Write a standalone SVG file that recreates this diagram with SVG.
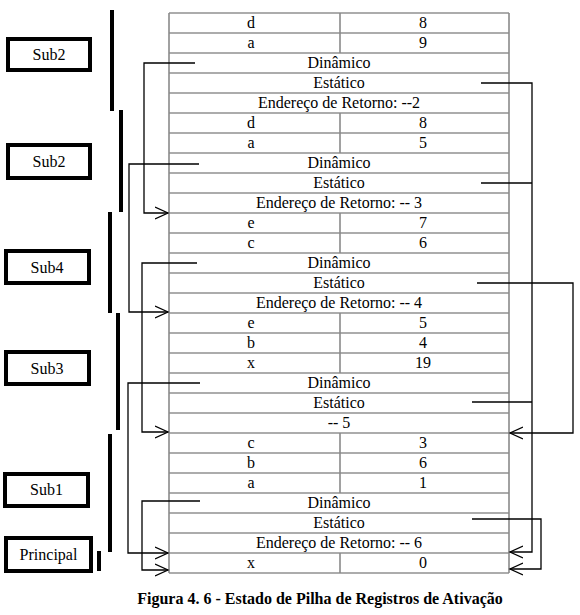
<svg xmlns="http://www.w3.org/2000/svg" width="580" height="615" viewBox="0 0 580 615">
<defs>
<style>
.t{font-family:"Liberation Serif","Times New Roman",Times,serif;font-size:16px;fill:#000;text-anchor:middle}
.cap{font-family:"Liberation Serif","Times New Roman",Times,serif;font-size:16px;font-weight:bold;fill:#000;text-anchor:middle}
.row{stroke:#5a5a5a;stroke-width:1.2}
.edge{stroke:#8a8a8a;stroke-width:1.6;fill:none}
.box{fill:#fff;stroke:#000;stroke-width:4}
.bar{stroke:#000;stroke-width:4}
.con{fill:none;stroke:#000;stroke-width:1.3}
</style>
<marker id="ah" markerUnits="userSpaceOnUse" markerWidth="16" markerHeight="16" refX="13" refY="7" orient="auto" viewBox="0 0 16 14">
<path d="M0,1 L13,7 L0,13" fill="none" stroke="#000" stroke-width="1.3"/>
</marker>
</defs>
<rect width="580" height="615" fill="#fff"/>

<g id="stack" font-family="Liberation Serif, Times New Roman, serif">
<g id="rows">
<line class="row" x1="169" y1="13" x2="509" y2="13"/>
<line class="row" x1="169" y1="33" x2="509" y2="33"/>
<line class="row" x1="169" y1="53" x2="509" y2="53"/>
<line class="row" x1="169" y1="73" x2="509" y2="73"/>
<line class="row" x1="169" y1="93" x2="509" y2="93"/>
<line class="row" x1="169" y1="113" x2="509" y2="113"/>
<line class="row" x1="169" y1="133" x2="509" y2="133"/>
<line class="row" x1="169" y1="153" x2="509" y2="153"/>
<line class="row" x1="169" y1="173" x2="509" y2="173"/>
<line class="row" x1="169" y1="193" x2="509" y2="193"/>
<line class="row" x1="169" y1="213" x2="509" y2="213"/>
<line class="row" x1="169" y1="233" x2="509" y2="233"/>
<line class="row" x1="169" y1="253" x2="509" y2="253"/>
<line class="row" x1="169" y1="273" x2="509" y2="273"/>
<line class="row" x1="169" y1="293" x2="509" y2="293"/>
<line class="row" x1="169" y1="313" x2="509" y2="313"/>
<line class="row" x1="169" y1="333" x2="509" y2="333"/>
<line class="row" x1="169" y1="353" x2="509" y2="353"/>
<line class="row" x1="169" y1="373" x2="509" y2="373"/>
<line class="row" x1="169" y1="393" x2="509" y2="393"/>
<line class="row" x1="169" y1="413" x2="509" y2="413"/>
<line class="row" x1="169" y1="433" x2="509" y2="433"/>
<line class="row" x1="169" y1="453" x2="509" y2="453"/>
<line class="row" x1="169" y1="473" x2="509" y2="473"/>
<line class="row" x1="169" y1="493" x2="509" y2="493"/>
<line class="row" x1="169" y1="513" x2="509" y2="513"/>
<line class="row" x1="169" y1="533" x2="509" y2="533"/>
<line class="row" x1="169" y1="553" x2="509" y2="553"/>
<line class="row" x1="169" y1="573" x2="509" y2="573"/>
<line class="edge" x1="169" y1="13" x2="169" y2="573"/>
<line class="edge" x1="509" y1="13" x2="509" y2="573"/>
<line class="edge" x1="340" y1="13" x2="340" y2="53"/>
<line class="edge" x1="340" y1="113" x2="340" y2="153"/>
<line class="edge" x1="340" y1="213" x2="340" y2="253"/>
<line class="edge" x1="340" y1="313" x2="340" y2="373"/>
<line class="edge" x1="340" y1="433" x2="340" y2="493"/>
<line class="edge" x1="340" y1="553" x2="340" y2="573"/>
</g>
<g id="texts">
<text class="t" x="251" y="28">d</text><text class="t" x="423" y="28">8</text>
<text class="t" x="251" y="48">a</text><text class="t" x="423" y="48">9</text>
<text class="t" x="339" y="68">Dinâmico</text>
<text class="t" x="339" y="88">Estático</text>
<text class="t" x="339" y="108">Endereço de Retorno: --2</text>
<text class="t" x="251" y="128">d</text><text class="t" x="423" y="128">8</text>
<text class="t" x="251" y="148">a</text><text class="t" x="423" y="148">5</text>
<text class="t" x="339" y="168">Dinâmico</text>
<text class="t" x="339" y="188">Estático</text>
<text class="t" x="339" y="208">Endereço de Retorno: -- 3</text>
<text class="t" x="251" y="228">e</text><text class="t" x="423" y="228">7</text>
<text class="t" x="251" y="248">c</text><text class="t" x="423" y="248">6</text>
<text class="t" x="339" y="268">Dinâmico</text>
<text class="t" x="339" y="288">Estático</text>
<text class="t" x="339" y="308">Endereço de Retorno: -- 4</text>
<text class="t" x="251" y="328">e</text><text class="t" x="423" y="328">5</text>
<text class="t" x="251" y="348">b</text><text class="t" x="423" y="348">4</text>
<text class="t" x="251" y="368">x</text><text class="t" x="423" y="368">19</text>
<text class="t" x="339" y="388">Dinâmico</text>
<text class="t" x="339" y="408">Estático</text>
<text class="t" x="339" y="428">-- 5</text>
<text class="t" x="251" y="448">c</text><text class="t" x="423" y="448">3</text>
<text class="t" x="251" y="468">b</text><text class="t" x="423" y="468">6</text>
<text class="t" x="251" y="488">a</text><text class="t" x="423" y="488">1</text>
<text class="t" x="339" y="508">Dinâmico</text>
<text class="t" x="339" y="528">Estático</text>
<text class="t" x="339" y="548">Endereço de Retorno: -- 6</text>
<text class="t" x="251" y="568">x</text><text class="t" x="423" y="568">0</text>
</g>
</g>

<g id="bars">
<line class="bar" x1="112" y1="10" x2="112" y2="111"/>
<line class="bar" x1="121" y1="110" x2="121" y2="212"/>
<line class="bar" x1="110" y1="212" x2="110" y2="313"/>
<line class="bar" x1="118" y1="313" x2="118" y2="430"/>
<line class="bar" x1="110" y1="434" x2="110" y2="552"/>
<line class="bar" x1="99" y1="551" x2="99" y2="571"/>
</g>

<g id="sub2a"><rect class="box" x="8" y="39" width="82" height="31"/><text class="t" x="49" y="60">Sub2</text></g>
<g id="sub2b"><rect class="box" x="8" y="145" width="82" height="33"/><text class="t" x="49" y="167">Sub2</text></g>
<g id="sub4"><rect class="box" x="6" y="251" width="83" height="32"/><text class="t" x="47" y="273">Sub4</text></g>
<g id="sub3"><rect class="box" x="6" y="352" width="83" height="32"/><text class="t" x="47" y="374">Sub3</text></g>
<g id="sub1"><rect class="box" x="5" y="474" width="83" height="32"/><text class="t" x="46.5" y="495">Sub1</text></g>
<g id="principal"><rect class="box" x="6" y="538" width="85" height="33"/><text class="t" x="48.5" y="560">Principal</text></g>

<g id="connectors">
<polyline class="con" points="195,63 144,63 144,213 168,213" marker-end="url(#ah)"/>
<polyline class="con" points="199,164 129,164 129,312 168,312" marker-end="url(#ah)"/>
<polyline class="con" points="197,263 142,263 142,432 168,432" marker-end="url(#ah)"/>
<polyline class="con" points="200,383 128,383 128,553 168,553" marker-end="url(#ah)"/>
<polyline class="con" points="200,501 142,501 142,570 168,570" marker-end="url(#ah)"/>
<polyline class="con" points="481,83 532,83 532,552 510,552" marker-end="url(#ah)"/>
<polyline class="con" points="481,183 532,183"/>
<polyline class="con" points="477,283 573,283 573,433 510,433" marker-end="url(#ah)"/>
<polyline class="con" points="472,402 532,402"/>
<polyline class="con" points="472,519 541,519 541,569 510,569" marker-end="url(#ah)"/>
</g>

<text class="cap" x="320" y="604">Figura 4. 6 - Estado de Pilha de Registros de Ativação</text>
</svg>
